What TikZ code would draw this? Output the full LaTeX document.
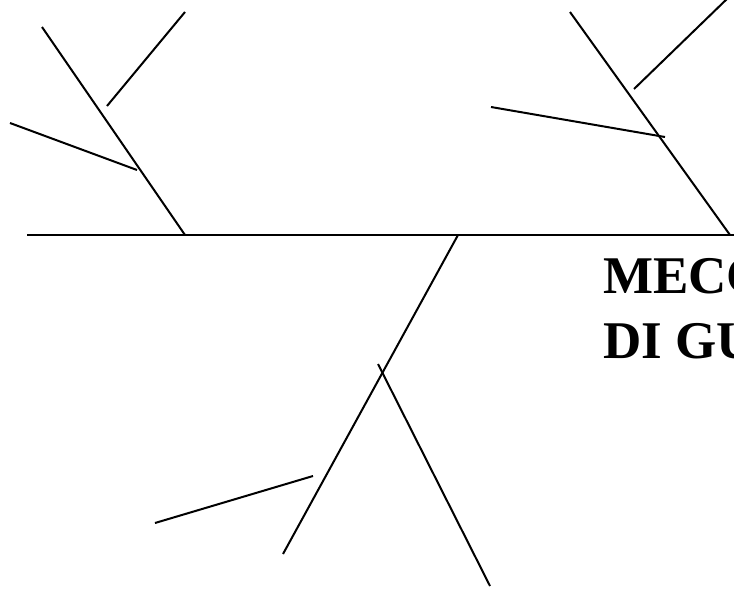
\documentclass[tikz,border=0pt]{standalone}
\usepackage{fontspec}
\setmainfont{Liberation Serif}
\usetikzlibrary{calc}
\tikzset{
  bone/.style={draw=black, line width=2pt},
  caption/.style={anchor=base west, inner sep=0pt,
    font=\fontsize{53}{65}\selectfont\bfseries},
}
\begin{document}
\begin{tikzpicture}[x=1pt, y=-1pt]
  \useasboundingbox (0,0) rectangle (734,589);
  % spine
  \coordinate (spineL) at (27,235);
  \coordinate (spineR) at (740,235);
  \coordinate (leftFoot) at (185,235);
  \coordinate (rightFoot) at (730,235);
  \coordinate (lowFoot) at (458,235);
  % left upper bone
  \coordinate (leftTop) at (42,27);
  \coordinate (leftA1) at (185,12);
  \coordinate (leftA2) at (107,106);
  \coordinate (leftB1) at (10,123);
  \coordinate (leftB2) at (137,170);
  % right upper bone
  \coordinate (rightTop) at (570,12);
  \coordinate (rightA1) at (730,-4);
  \coordinate (rightA2) at (634,89);
  \coordinate (rightB1) at (491,107);
  \coordinate (rightB2) at (665,137);
  % lower bone
  \coordinate (lowEnd) at (283,554);
  \coordinate (lowA1) at (378,364);
  \coordinate (lowA2) at (490,586);
  \coordinate (lowB1) at (155,523);
  \coordinate (lowB2) at (313,476);

  \draw[bone] (spineL) -- (spineR);
  \draw[bone] (leftTop) -- (leftFoot);
  \draw[bone] (leftA1) -- (leftA2);
  \draw[bone] (leftB1) -- (leftB2);
  \draw[bone] (rightTop) -- (rightFoot);
  \draw[bone] (rightA1) -- (rightA2);
  \draw[bone] (rightB1) -- (rightB2);
  \draw[bone] (lowFoot) -- (lowEnd);
  \draw[bone] (lowA1) -- (lowA2);
  \draw[bone] (lowB1) -- (lowB2);

  \node[caption] (title1) at (603,293) {MECC};
  \node[caption] (title2) at (603,358) {DI GU};
\end{tikzpicture}
\end{document}
